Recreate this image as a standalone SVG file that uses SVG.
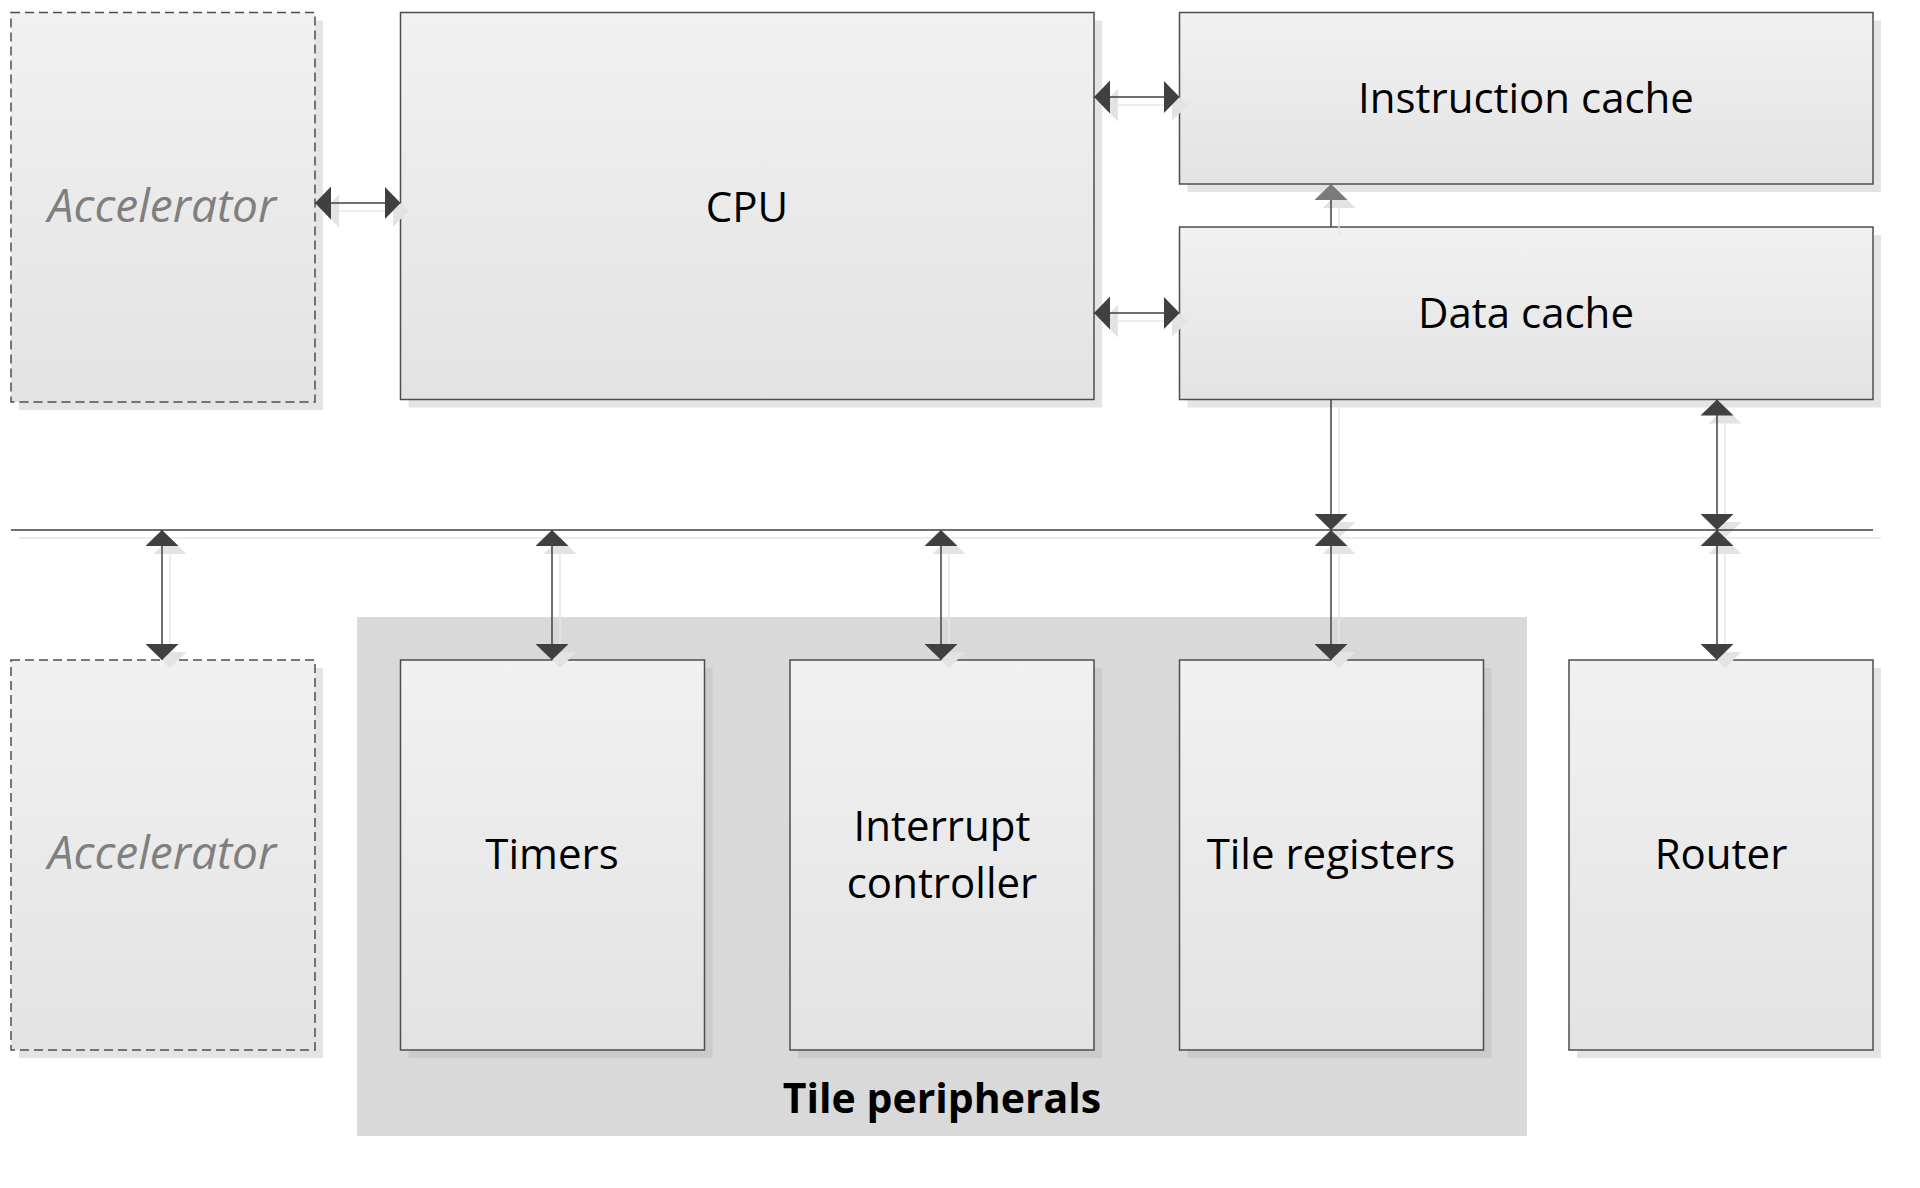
<svg xmlns="http://www.w3.org/2000/svg" width="1920" height="1188" viewBox="0 0 1920 1188">
<style>
.box{fill:url(#g);stroke:#4d4d4d;stroke-width:1.5}
.dash{stroke-dasharray:9 5}
.sh{fill:#e4e4e4}
.shd{fill:#cbcbcb}
.lbl{font-family:"Open Sans","Liberation Sans",sans-serif;font-size:42px;fill:#000;text-anchor:middle}
.acc{font-style:italic;font-size:46px;fill:#7f7f7f}
.bold{font-weight:bold;font-size:41px}
.c{stroke:#404040;stroke-width:1.5;fill:none}
.cs{stroke:#e6e6e6;stroke-width:1.5;fill:none}
</style>
<defs>
<linearGradient id="g" x1="0" y1="0" x2="0" y2="1">
<stop offset="0" stop-color="#f1f1f1"/>
<stop offset="1" stop-color="#e3e3e3"/>
</linearGradient>
<marker id="a" markerUnits="userSpaceOnUse" viewBox="0 0 16 33" refX="16" refY="16.5" markerWidth="16" markerHeight="33" orient="auto-start-reverse"><path d="M0,0L16,16.5L0,33z" fill="#404040"/></marker>
<marker id="ag" markerUnits="userSpaceOnUse" viewBox="0 0 16 33" refX="16" refY="16.5" markerWidth="16" markerHeight="33" orient="auto-start-reverse"><path d="M0,0L16,16.5L0,33z" fill="#7a7a7a"/></marker>
<marker id="as" markerUnits="userSpaceOnUse" viewBox="0 0 16 33" refX="16" refY="16.5" markerWidth="16" markerHeight="33" orient="auto-start-reverse"><path d="M0,0L16,16.5L0,33z" fill="#e3e3e3"/></marker>
</defs>
<rect width="1920" height="1188" fill="#fff"/>

<g id="tile-peripherals">
<rect x="357" y="617" width="1170" height="519" fill="#d9d9d9"/>
<text class="lbl bold" x="942" y="1113">Tile peripherals</text>
</g>

<g id="accelerator-top">
<rect class="sh" x="19" y="20.5" width="304" height="389.5"/>
<rect class="box dash" x="11" y="12.5" width="304" height="389.5"/>
<text class="lbl acc" x="162" y="222">Accelerator</text>
</g>

<g id="cpu">
<rect class="sh" x="408.5" y="20.5" width="693.5" height="387"/>
<rect class="box" x="400.5" y="12.5" width="693.5" height="387"/>
<text class="lbl" x="747" y="222">CPU</text>
</g>

<g id="instruction-cache">
<rect class="sh" x="1187.5" y="20.5" width="693.5" height="171.5"/>
<rect class="box" x="1179.5" y="12.5" width="693.5" height="171.5"/>
<text class="lbl" x="1526" y="113">Instruction cache</text>
</g>

<g id="data-cache">
<rect class="sh" x="1187.5" y="235" width="693.5" height="172.5"/>
<rect class="box" x="1179.5" y="227" width="693.5" height="172.5"/>
<text class="lbl" x="1526" y="328">Data cache</text>
</g>

<g id="accelerator-bottom">
<rect class="sh" x="19" y="668" width="304" height="390"/>
<rect class="box dash" x="11" y="660" width="304" height="390"/>
<text class="lbl acc" x="162" y="869">Accelerator</text>
</g>

<g id="timers">
<rect class="shd" x="408.5" y="668" width="304" height="390"/>
<rect class="box" x="400.5" y="660" width="304" height="390"/>
<text class="lbl" x="552" y="869">Timers</text>
</g>

<g id="interrupt-controller">
<rect class="shd" x="798" y="668" width="304" height="390"/>
<rect class="box" x="790" y="660" width="304" height="390"/>
<text class="lbl" x="942" y="841">Interrupt</text>
<text class="lbl" x="942" y="898">controller</text>
</g>

<g id="tile-registers">
<rect class="shd" x="1187.5" y="668" width="304" height="390"/>
<rect class="box" x="1179.5" y="660" width="304" height="390"/>
<text class="lbl" x="1331" y="869">Tile registers</text>
</g>

<g id="router">
<rect class="sh" x="1577" y="668" width="304" height="390"/>
<rect class="box" x="1569" y="660" width="304" height="390"/>
<text class="lbl" x="1721" y="869">Router</text>
</g>

<g id="connectors">
<g id="connector-shadows">
<line class="cs" x1="19" y1="538" x2="1881" y2="538"/>
<line class="cs" x1="323" y1="211" x2="408.5" y2="211" marker-start="url(#as)" marker-end="url(#as)"/>
<line class="cs" x1="1102" y1="105" x2="1187.5" y2="105" marker-start="url(#as)" marker-end="url(#as)"/>
<line class="cs" x1="1102" y1="321" x2="1187.5" y2="321" marker-start="url(#as)" marker-end="url(#as)"/>
<line class="cs" x1="1339" y1="235" x2="1339" y2="192" marker-end="url(#as)"/>
<line class="cs" x1="1339" y1="407.5" x2="1339" y2="538" marker-end="url(#as)"/>
<line class="cs" x1="1725" y1="407.5" x2="1725" y2="538" marker-start="url(#as)" marker-end="url(#as)"/>
<line class="cs" x1="170" y1="538" x2="170" y2="668" marker-start="url(#as)" marker-end="url(#as)"/>
<line class="cs" x1="560" y1="538" x2="560" y2="668" marker-start="url(#as)" marker-end="url(#as)"/>
<line class="cs" x1="949" y1="538" x2="949" y2="668" marker-start="url(#as)" marker-end="url(#as)"/>
<line class="cs" x1="1339" y1="538" x2="1339" y2="668" marker-start="url(#as)" marker-end="url(#as)"/>
<line class="cs" x1="1725" y1="538" x2="1725" y2="668" marker-start="url(#as)" marker-end="url(#as)"/>
</g>
<line id="bus" class="c" x1="11" y1="530" x2="1873" y2="530"/>
<line id="acc-cpu" class="c" x1="315" y1="203" x2="400.5" y2="203" marker-start="url(#a)" marker-end="url(#a)"/>
<line id="cpu-ic" class="c" x1="1094" y1="97" x2="1179.5" y2="97" marker-start="url(#a)" marker-end="url(#a)"/>
<line id="cpu-dc" class="c" x1="1094" y1="313" x2="1179.5" y2="313" marker-start="url(#a)" marker-end="url(#a)"/>
<line id="dc-ic" class="c" x1="1331" y1="227" x2="1331" y2="184" marker-end="url(#ag)"/>
<line id="dc-bus" class="c" x1="1331" y1="399.5" x2="1331" y2="530" marker-end="url(#a)"/>
<line id="dc-bus-right" class="c" x1="1717" y1="399.5" x2="1717" y2="530" marker-start="url(#a)" marker-end="url(#a)"/>
<line id="bus-acc" class="c" x1="162" y1="530" x2="162" y2="660" marker-start="url(#a)" marker-end="url(#a)"/>
<line id="bus-timers" class="c" x1="552" y1="530" x2="552" y2="660" marker-start="url(#a)" marker-end="url(#a)"/>
<line id="bus-intc" class="c" x1="941" y1="530" x2="941" y2="660" marker-start="url(#a)" marker-end="url(#a)"/>
<line id="bus-treg" class="c" x1="1331" y1="530" x2="1331" y2="660" marker-start="url(#a)" marker-end="url(#a)"/>
<line id="bus-router" class="c" x1="1717" y1="530" x2="1717" y2="660" marker-start="url(#a)" marker-end="url(#a)"/>
</g>
</svg>
